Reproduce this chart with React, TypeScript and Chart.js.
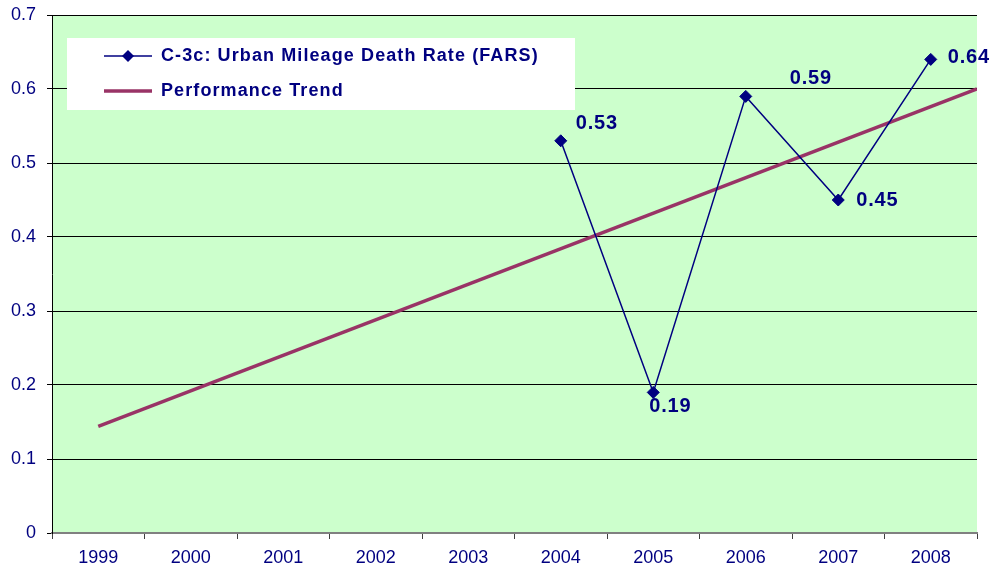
import React, { useEffect, useRef } from "react";
import { Chart, registerables } from "chart.js";

Chart.register(...registerables);

const categories = ["1999", "2000", "2001", "2002", "2003", "2004", "2005", "2006", "2007", "2008"];
const deathRate = [null, null, null, null, null, 0.53, 0.19, 0.59, 0.45, 0.64];
const trendX = [0, 9.5];
const trendY = [0.144, 0.6];
const yTicks = [0, 0.1, 0.2, 0.3, 0.4, 0.5, 0.6, 0.7];
const seriesName = "C-3c: Urban Mileage Death Rate (FARS)";
const trendName = "Performance Trend";

const labelOffsets: [number, number][] = [
  [0, 0], [0, 0], [0, 0], [0, 0], [0, 0],
  [15, -17], [-4, 14], [44, -18], [18, 0], [17, -2],
];

const NAVY = "#000080";
const PLUM = "#993366";
const FONT = "Arial, 'Liberation Sans', sans-serif";

const bgPlugin = {
  id: "bgPlugin",
  beforeDraw(chart: any) {
    const { ctx, chartArea } = chart;
    ctx.save();
    ctx.fillStyle = "#CCFFCC";
    ctx.fillRect(chartArea.left, chartArea.top, chartArea.right - chartArea.left, chartArea.bottom - chartArea.top);
    ctx.restore();
  },
};

const labelsPlugin = {
  id: "labelsPlugin",
  afterDatasetsDraw(chart: any) {
    const { ctx } = chart;
    const meta = chart.getDatasetMeta(0);
    ctx.save();
    ctx.font = "bold 20px " + FONT;
    (ctx as any).letterSpacing = "0.8px";
    ctx.fillStyle = NAVY;
    ctx.textAlign = "left";
    ctx.textBaseline = "middle";
    meta.data.forEach((pt: any, i: number) => {
      const v = deathRate[i];
      if (v === null || v === undefined) return;
      const [dx, dy] = labelOffsets[i];
      ctx.fillText(v.toFixed(2), pt.x + dx, pt.y + dy);
    });
    ctx.restore();
  },
};

const legendPlugin = {
  id: "legendPlugin",
  afterDatasetsDraw(chart: any) {
    const { ctx } = chart;
    ctx.save();
    ctx.fillStyle = "#FFFFFF";
    ctx.fillRect(67, 38, 508, 72);
    ctx.strokeStyle = NAVY;
    ctx.lineWidth = 1.5;
    ctx.beginPath();
    ctx.moveTo(104, 56);
    ctx.lineTo(152, 56);
    ctx.stroke();
    ctx.fillStyle = NAVY;
    ctx.beginPath();
    ctx.moveTo(128, 50);
    ctx.lineTo(134, 56);
    ctx.lineTo(128, 62);
    ctx.lineTo(122, 56);
    ctx.closePath();
    ctx.fill();
    ctx.strokeStyle = PLUM;
    ctx.lineWidth = 3.5;
    ctx.beginPath();
    ctx.moveTo(104, 91);
    ctx.lineTo(152, 91);
    ctx.stroke();
    ctx.font = "bold 18px " + FONT;
    (ctx as any).letterSpacing = "1.1px";
    ctx.fillStyle = NAVY;
    ctx.textAlign = "left";
    ctx.textBaseline = "middle";
    ctx.fillText(seriesName, 161, 56);
    ctx.fillText(trendName, 161, 91);
    ctx.restore();
  },
};

export default function App() {
  const ref = useRef<HTMLCanvasElement>(null);
  useEffect(() => {
    if (!ref.current) return;
    const chart = new Chart(ref.current, {
      type: "line",
      data: {
        labels: categories,
        datasets: [
          {
            label: seriesName,
            data: deathRate as any,
            borderColor: NAVY,
            backgroundColor: NAVY,
            borderWidth: 1.5,
            pointStyle: "rectRot",
            pointRadius: 6,
            pointBorderWidth: 1,
            spanGaps: false,
            xAxisID: "x",
            order: 1,
          },
          {
            label: trendName,
            data: trendX.map((x, i) => ({ x, y: trendY[i] })) as any,
            borderColor: PLUM,
            backgroundColor: PLUM,
            borderWidth: 3.5,
            pointRadius: 0,
            xAxisID: "xt",
            order: 2,
          },
        ],
      },
      options: {
        responsive: false,
        animation: false,
        devicePixelRatio: 1,
        layout: { padding: { top: 15, right: 17, left: 0, bottom: 0 } },
        plugins: {
          legend: { display: false },
          tooltip: { enabled: false },
        },
        scales: {
          x: {
            type: "category",
            offset: true,
            grid: {
              offset: true,
              drawOnChartArea: false,
              tickLength: 6,
              color: "#404040",
              lineWidth: 1,
            },
            border: { color: "#808080", width: 2 },
            ticks: {
              color: NAVY,
              font: { family: FONT, size: 18 },
              padding: 8,
              maxRotation: 0,
              autoSkip: false,
            },
            afterFit: (s: any) => {
              s.height = 40;
              s.paddingLeft = 0;
              s.paddingRight = 0;
            },
          },
          xt: {
            type: "linear",
            display: false,
            min: -0.5,
            max: 9.5,
          },
          y: {
            min: 0,
            max: 0.7,
            afterBuildTicks: (s: any) => { s.ticks = yTicks.map((v) => ({ value: v })); },
            grid: { color: "#000000", lineWidth: 1, tickLength: 5 },
            border: { color: "#000000", width: 1 },
            ticks: {
              color: NAVY,
              font: { family: FONT, size: 18 },
              padding: 11,
              callback: (v: any) => String(Math.round(Number(v) * 10) / 10),
            },
            afterFit: (s: any) => {
              s.width = 52;
              s.paddingTop = 0;
              s.paddingBottom = 0;
            },
          },
        },
      },
      plugins: [bgPlugin, labelsPlugin, legendPlugin],
    });
    return () => chart.destroy();
  }, []);
  return (
    <div style={{ position: "absolute", left: 0, top: 0, width: 994, height: 573, background: "#fff" }}>
      <canvas ref={ref} width={994} height={573} style={{ display: "block" }} />
    </div>
  );
}
